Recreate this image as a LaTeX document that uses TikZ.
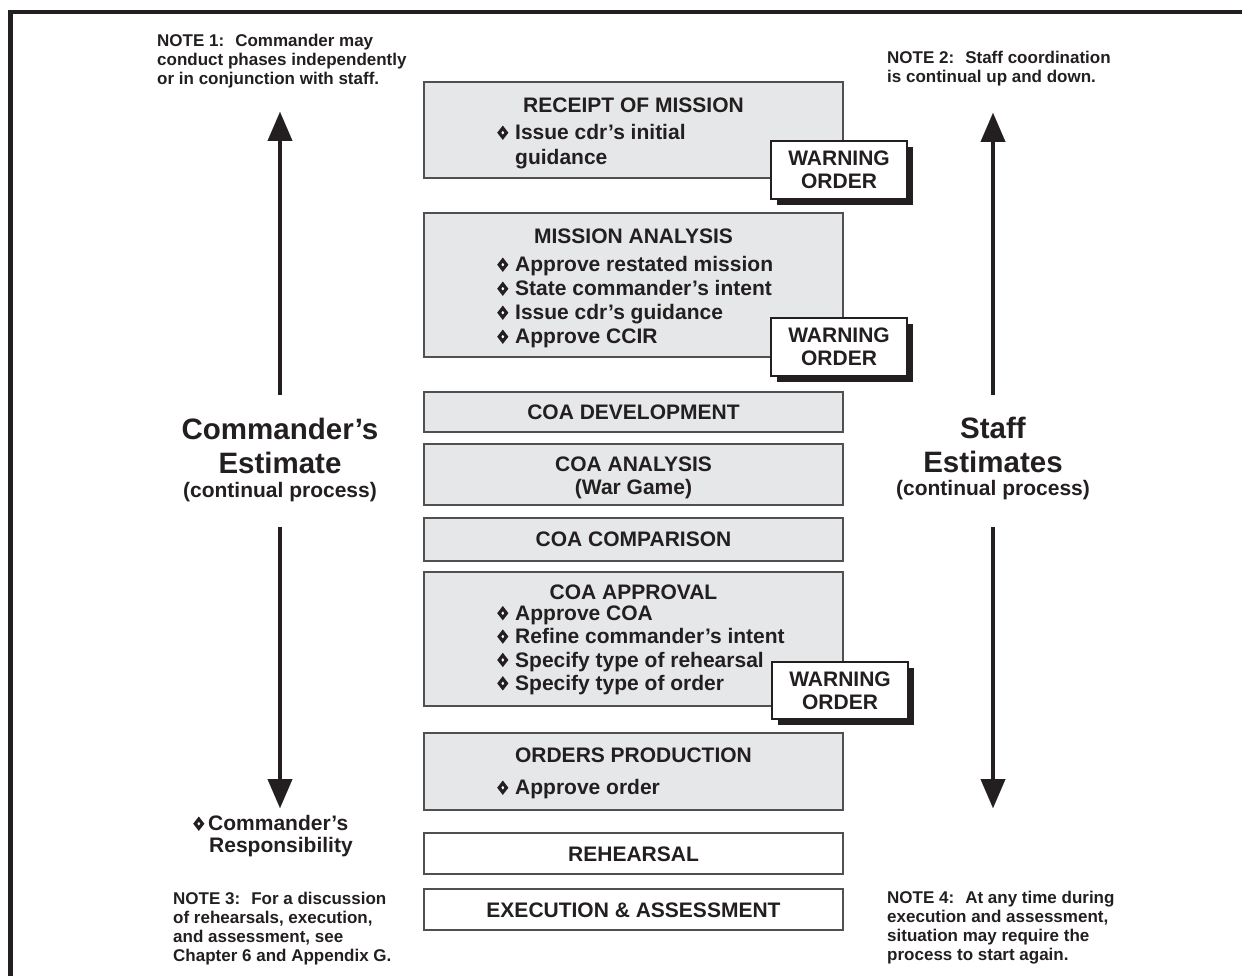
\documentclass[tikz,border=0pt]{standalone}
\usepackage{fontspec}
\setmainfont{Liberation Sans}
\usetikzlibrary{arrows.meta,shadows}

\definecolor{ink}{HTML}{231F20}
\definecolor{boxfill}{HTML}{E6E7E8}
\definecolor{boxline}{HTML}{505052}

% diamond bullet
\newcommand\dia{\tikz[baseline=0pt,x=1pt,y=1pt]{\fill[ink] (0,0) -- (5.6,7.2) -- (0,14.4) -- (-5.6,7.2) -- cycle; \fill[white] (0,5.4) -- (1.4,7.2) -- (0,9) -- (-1.4,7.2) -- cycle;}}
\newcommand\bl{\makebox[18pt][l]{\dia}}
\newcommand\gap{\hspace*{18pt}}

\tikzset{
  phase/.style={draw=boxline, line width=1.2pt, fill=boxfill, minimum width=419pt, inner sep=0pt},
  whitephase/.style={phase, fill=white},
  phasetext/.style={font=\fontsize{21}{24}\selectfont\bfseries, text=ink, inner sep=0pt, align=center},
  itemlist/.style={font=\fontsize{21}{23.7}\selectfont\bfseries, text=ink, inner sep=0pt, align=left, anchor=north west},
  warnbox/.style={draw=ink, line width=1.2pt, fill=white, minimum width=136pt, minimum height=58pt, inner sep=0pt, align=center, font=\fontsize{21}{23}\selectfont\bfseries, text=ink, drop shadow={shadow xshift=6pt, shadow yshift=-6pt, fill=ink, opacity=1}},
  notetext/.style={font=\fontsize{17}{19}\selectfont\bfseries, text=ink, inner sep=0pt, align=left, anchor=north west},
  bigtext/.style={font=\fontsize{29.5}{34}\selectfont\bfseries, text=ink, inner sep=0pt, align=center},
  subtext/.style={font=\fontsize{21}{24}\selectfont\bfseries, text=ink, inner sep=0pt},
  flow/.style={line width=4.5pt, draw=ink, -{Triangle[width=25pt,length=29pt,line width=0.1pt,fill=ink]}}
}

\begin{document}
\begin{tikzpicture}[x=1pt,y=-1pt]
    \useasboundingbox (0,0) rectangle (1242,976);
    \draw[ink, line width=4.5pt] (10.3,990) -- (10.3,12) -- (1250,12);

    % phases
    \node[phase, minimum height=96pt] (receipt) at (633.5,130) {};
    \node[phasetext] (receipttitle) at (633.5,105) {RECEIPT OF MISSION};
    \node[itemlist, font=\fontsize{21}{25}\selectfont\bfseries] (receiptitems) at (497,124.5) {\bl Issue cdr’s initial\\\gap guidance};

    \node[phase, minimum height=144pt] (analysis) at (633.5,285) {};
    \node[phasetext] (analysistitle) at (633.5,236) {MISSION ANALYSIS};
    \node[itemlist, font=\fontsize{21}{24}\selectfont\bfseries] (analysisitems) at (497,256.5) {\bl Approve restated mission\\\bl State commander’s intent\\\bl Issue cdr’s guidance\\\bl Approve CCIR};

    \node[phase, minimum height=40pt] (coadev) at (633.5,412) {};
    \node[phasetext] (coadevtitle) at (633.5,412) {COA DEVELOPMENT};

    \node[phase, minimum height=61pt] (coaana) at (633.5,474.5) {};
    \node[phasetext, font=\fontsize{21}{23}\selectfont\bfseries] (coaanatitle) at (633.5,478) {COA ANALYSIS\\(War Game)};

    \node[phase, minimum height=43pt] (coacomp) at (633.5,539.5) {};
    \node[phasetext] (coacomptitle) at (633.5,539.5) {COA COMPARISON};

    \node[phase, minimum height=134pt] (approval) at (633.5,639) {};
    \node[phasetext] (approvaltitle) at (633.5,592) {COA APPROVAL};
    \node[itemlist, font=\fontsize{21}{23.4}\selectfont\bfseries] (approvalitems) at (497,605.5) {\bl Approve COA\\\bl Refine commander’s intent\\\bl Specify type of rehearsal\\\bl Specify type of order};

    \node[phase, minimum height=77pt] (orders) at (633.5,771.5) {};
    \node[phasetext] (orderstitle) at (633.5,755) {ORDERS PRODUCTION};
    \node[itemlist] (ordersitems) at (497,779.5) {\bl Approve order};

    \node[whitephase, minimum height=41pt] (rehearsal) at (633.5,853.5) {};
    \node[phasetext] (rehearsaltitle) at (633.5,854) {REHEARSAL};

    \node[whitephase, minimum height=41pt] (exec) at (633.5,909.5) {};
    \node[phasetext] (exectitle) at (633.5,910.5) {EXECUTION \& ASSESSMENT};

    % warning orders
    \node[warnbox] (warn1) at (839,170) {WARNING\\ORDER};
    \node[warnbox] (warn2) at (839,347) {WARNING\\ORDER};
    \node[warnbox, minimum height=57pt] (warn3) at (840,690.5) {WARNING\\ORDER};

    % estimates
    \node[bigtext] (cmdr) at (280,445.5) {Commander’s\\Estimate};
    \node[subtext] (cmdrsub) at (280,492.5) {(continual process)};
    \node[bigtext] (staff) at (993,445) {Staff\\Estimates};
    \node[subtext] (staffsub) at (993,490.5) {(continual process)};

    \coordinate (lup0) at (280,395);
    \coordinate (lup1) at (280,112);
    \coordinate (ldn0) at (280,527);
    \coordinate (ldn1) at (280,808);
    \coordinate (rup0) at (993,395);
    \coordinate (rup1) at (993,113);
    \coordinate (rdn0) at (993,527);
    \coordinate (rdn1) at (993,808);
    \draw[flow] (lup0) -- (lup1);
    \draw[flow] (ldn0) -- (ldn1);
    \draw[flow] (rup0) -- (rup1);
    \draw[flow] (rdn0) -- (rdn1);

    % notes
    \node[notetext] (note1) at (157,34) {NOTE 1:~ Commander may\\conduct phases independently\\or in conjunction with staff.};
    \node[notetext] (note2) at (887,51) {NOTE 2:~ Staff coordination\\is continual up and down.};
    \node[notetext] (note3) at (173,892) {NOTE 3:~ For a discussion\\of rehearsals, execution,\\and assessment, see\\Chapter 6 and Appendix G.};
    \node[notetext] (note4) at (887,891) {NOTE 4:~ At any time during\\execution and assessment,\\situation may require the\\process to start again.};
    \node[itemlist, font=\fontsize{21}{22}\selectfont\bfseries] (resp) at (193,815.5) {\makebox[15pt][l]{\dia}Commander’s\\\hspace*{16pt}Responsibility};
\end{tikzpicture}
\end{document}
